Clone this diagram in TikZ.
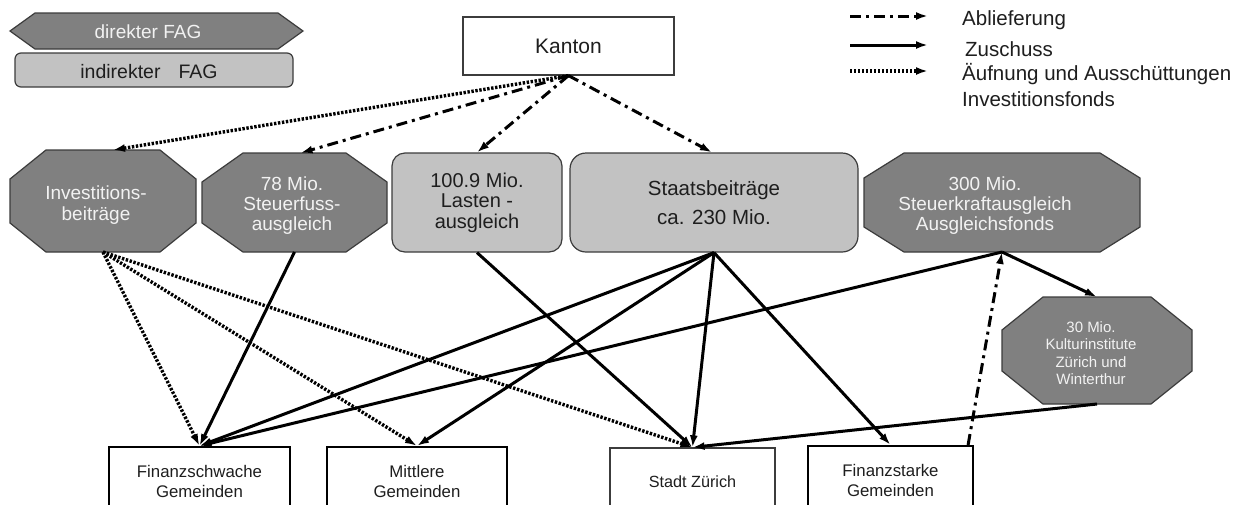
\documentclass[tikz,border=0pt]{standalone}
\usepackage{fontspec}
\setmainfont{Liberation Sans}
\usetikzlibrary{arrows.meta}
\definecolor{octgray}{RGB}{128,128,128}
\definecolor{lightbox}{RGB}{194,194,194}
\definecolor{edgegray}{RGB}{60,60,60}
\definecolor{softwhite}{RGB}{242,242,242}
\definecolor{ink}{RGB}{30,30,30}
\newcommand\octpath[6]{%
  \draw[octshape] (#1+#5,#2) -- (#3-#5,#2) -- (#3,#2+#6) -- (#3,#4-#6) -- (#3-#5,#4) -- (#1+#5,#4) -- (#1,#4-#6) -- (#1,#2+#6) -- cycle;}
\tikzset{
  octshape/.style={fill=octgray, draw=edgegray, line width=1.2pt, line join=miter},
  anchorbox/.style={inner sep=0pt, outer sep=0pt},
  octtext/.style={text=softwhite, align=center, inner sep=0pt},
  lightrr/.style={fill=lightbox, draw=edgegray, line width=1.2pt, rounded corners=13pt, text=ink, align=center, inner sep=0pt},
  gembox/.style={draw=black, line width=2.2pt, fill=white, text=ink, align=center, inner sep=0pt, minimum height=68pt},
  tip/.style={-{Latex[length=12pt,width=8pt]}},
  zus/.style={line width=3pt, tip},
  abl/.style={line width=3pt, dash pattern=on 11pt off 5pt on 3pt off 5pt, tip},
  auf/.style={line width=3.4pt, dash pattern=on 2.4pt off 1.6pt, tip},
  legtext/.style={anchor=west, text=ink, inner sep=0pt, font=\fontsize{20.5}{23}\selectfont},
}
\begin{document}
\begin{tikzpicture}[x=1pt,y=-1pt]
\path[use as bounding box] (0,0) rectangle (1253,504);
\clip (0,0) rectangle (1253,504);
\fill[white] (0,0) rectangle (1253,504);

% key boxes
\draw[octshape] (10,31) -- (35,13) -- (278,13) -- (303,31) -- (278,49) -- (35,49) -- cycle;
\node[octtext, font=\fontsize{19}{22}\selectfont] (dfag) at (148,32) {direkter FAG};
\node[lightrr, rounded corners=6pt, minimum width=278pt, minimum height=34pt, text width=270pt] (ifag) at (154,70) {};
\node[text=ink, inner sep=0pt, font=\fontsize{19.5}{22}\selectfont] (ifagtxt) at (149,72) {indirekter\hspace{18pt}FAG};

% Kanton
\node[draw=edgegray, line width=1.2pt, fill=white, minimum width=211pt, minimum height=58pt, inner sep=0pt, text=ink, font=\fontsize{21}{24}\selectfont] (kanton) at (568.5,46) {Kanton};

% legend
\coordinate (la1) at (850,16); \coordinate (lb1) at (928,16);
\coordinate (la2) at (850,45); \coordinate (lb2) at (928,45);
\coordinate (la3) at (850,71); \coordinate (lb3) at (928,71);
\draw[abl] (la1) -- (lb1);
\draw[zus] (la2) -- (lb2);
\draw[auf] (la3) -- (lb3);
\node[legtext] (t1) at (962,20) {Ablieferung};
\node[legtext] (t2) at (965,49) {Zuschuss};
\node[legtext] (t3) at (962,74) {Äufnung und Ausschüttungen};
\node[legtext] (t4) at (962,99) {Investitionsfonds};

% octagons
\octpath{10}{150}{196}{252}{36}{29}
\node[anchorbox, minimum width=186pt, minimum height=102pt] (inv) at (103,201) {};
\node[octtext, font=\fontsize{19}{20.5}\selectfont] (invtxt) at (96,205) {Investitions-\\beiträge};

\octpath{202}{153}{387}{252}{41}{29}
\node[anchorbox, minimum width=185pt, minimum height=99pt] (stf) at (294.5,202.5) {};
\node[octtext, font=\fontsize{19}{20}\selectfont] (stftxt) at (292,206) {78 Mio.\\Steuerfuss-\\ausgleich};

\octpath{864}{153}{1140}{252}{40}{25}
\node[anchorbox, minimum width=276pt, minimum height=99pt] (skr) at (1002,202.5) {};
\node[octtext, font=\fontsize{19}{20}\selectfont] (skrtxt) at (985,206) {300 Mio.\\Steuerkraftausgleich\\Ausgleichsfonds};

\octpath{1002}{297}{1192}{404}{41}{33}
\node[anchorbox, minimum width=190pt, minimum height=107pt] (kult) at (1097,350.5) {};
\node[octtext, font=\fontsize{15}{17.5}\selectfont] (kulttxt) at (1091,353) {30 Mio.\\Kulturinstitute\\Zürich und\\Winterthur};

% rounded light boxes
\node[lightrr, minimum width=170pt, minimum height=99pt, font=\fontsize{20}{20.5}\selectfont] (last) at (477,202.5) {100.9 Mio.\\Lasten -\\ausgleich};
\node[lightrr, rounded corners=16pt, minimum width=288pt, minimum height=99pt, font=\fontsize{20.5}{29}\selectfont] (staat) at (714,202.5) {Staatsbeiträge\\ca. 230 Mio.};

% bottom boxes
\node[gembox, minimum width=181pt, font=\fontsize{16.8}{20}\selectfont] (fs) at (199.5,481) {Finanzschwache\\Gemeinden};
\node[gembox, minimum width=180pt, font=\fontsize{16.8}{20}\selectfont] (mit) at (417,481) {Mittlere\\Gemeinden};
\node[gembox, draw=edgegray, line width=1.3pt, minimum width=165pt, font=\fontsize{16.2}{20}\selectfont] (sz) at (692.5,482) {Stadt Zürich};
\node[gembox, minimum width=165pt, font=\fontsize{16.8}{20}\selectfont] (fst) at (890.5,480) {Finanzstarke\\Gemeinden};

% Kanton connectors
\draw[auf] (kanton.south) -- ([xshift=10pt]inv.north);
\draw[abl] (kanton.south) -- ([xshift=6pt]stf.north);
\draw[abl] (kanton.south) -- (last.north);
\draw[abl] (kanton.south) -- ([xshift=-2pt]staat.north);

% Zuschuss
\draw[zus] (stf.south) -- (fs.north);
\draw[zus] (last.south) -- (sz.north);
\draw[zus] (staat.south) -- (fs.north);
\draw[zus] (staat.south) -- (mit.north);
\draw[zus] (staat.south) -- (sz.north);
\draw[zus] (staat.south) -- (fst.north);
\draw[zus] (skr.south) -- (fs.north);
\draw[zus] (skr.south) -- (kult.north);
\draw[zus] (kult.south) -- (sz.north);

% Ablieferung from Finanzstarke
\draw[abl] ([xshift=-6pt]fst.north east) -- (skr.south);

% Investitionsfonds
\draw[auf] (inv.south) -- (fs.north);
\draw[auf] (inv.south) -- (mit.north);
\draw[auf] (inv.south) -- (sz.north);
\end{tikzpicture}
\end{document}
